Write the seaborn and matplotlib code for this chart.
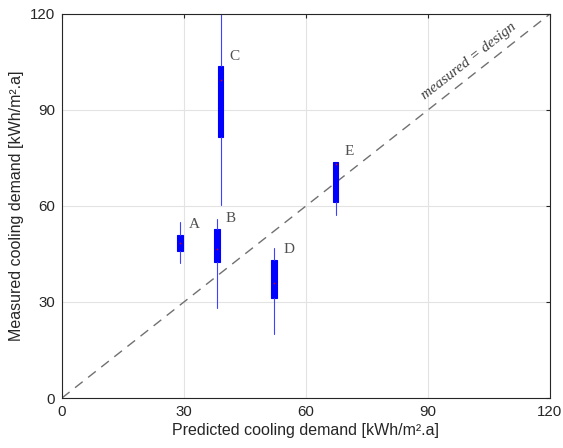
import matplotlib
matplotlib.use("Agg")
import matplotlib.pyplot as plt
import numpy as np
import pandas as pd
import seaborn as sns

# Buildings and their cooling-demand statistics [kWh/m².a]
buildings = ["A", "B", "C", "D", "E"]
predicted = [29.0, 38.1, 39.0, 52.2, 67.3]
whisker_low = [42.1, 28.0, 60.3, 19.9, 57.1]
quart_low = [46.0, 42.6, 81.7, 31.3, 61.1]
medians = [48.3, 46.5, 99.3, 36.0, 73.1]
quart_high = [50.9, 52.9, 103.6, 43.2, 73.8]
whisker_high = [54.9, 56.0, 125.0, 46.8, 73.8]

ticks = [0, 30, 60, 90, 120]
identity = pd.DataFrame({"design": [0, 120], "measured": [0, 120]})
medians_df = pd.DataFrame({"predicted": predicted, "median": medians})

sns.set_theme(style="whitegrid")
plt.rcParams["font.family"] = ["Liberation Sans", "DejaVu Sans"]

fig = plt.figure(figsize=(5.63, 4.48), dpi=100)
ax = fig.add_axes([0.110, 0.1116, 0.8668, 0.8572])

# measured = design reference line
sns.lineplot(data=identity, x="design", y="measured", ax=ax,
             color="#707070", lw=1.0, dashes=False, zorder=2)
ax.lines[-1].set_dashes([7, 5])

stats = []
for name, lo, q1, med, q3, hi in zip(buildings, whisker_low, quart_low,
                                     medians, quart_high, whisker_high):
    stats.append(dict(label=name, whislo=lo, q1=q1, med=med, q3=q3,
                      whishi=hi, fliers=[]))

ax.bxp(stats, positions=predicted, widths=1.4, patch_artist=True,
       showcaps=False, manage_ticks=False,
       boxprops=dict(facecolor="#0000ff", edgecolor="#0000ff", lw=0.8),
       whiskerprops=dict(color="#4040ff", lw=0.8),
       medianprops=dict(visible=False))

# medians as small red dots
sns.scatterplot(data=medians_df, x="predicted", y="median", ax=ax,
                color="#e00000", s=1.5, linewidth=0, zorder=5)

for name, x, top in zip(buildings, predicted, quart_high):
    ax.text(x + 2.2, top + 1.2, name, family="Liberation Serif",
            fontsize=11, color="#505050", ha="left", va="bottom")

ax.text(100.1, 105.2, "measured = design", family="Liberation Serif",
        style="italic", fontsize=11, color="#404040", rotation=38.0,
        ha="center", va="center", rotation_mode="anchor")

ax.set_xlim(0, 120)
ax.set_ylim(0, 120)
ax.set_xticks(ticks)
ax.set_yticks(ticks)
ax.set_xlabel("Predicted cooling demand [kWh/m².a]", fontsize=11.5,
              color="#262626", labelpad=3)
ax.set_ylabel("Measured cooling demand [kWh/m².a]", fontsize=11.5,
              color="#262626", labelpad=4)
ax.tick_params(axis="both", direction="in", length=3, width=0.8,
               colors="#262626", labelsize=10.8, top=True, right=True,
               pad=5)
ax.grid(True, color="#e3e3e3", lw=0.8)
for sp in ax.spines.values():
    sp.set_color("#262626")
    sp.set_linewidth(0.8)

fig.savefig("out.png", dpi=100)
